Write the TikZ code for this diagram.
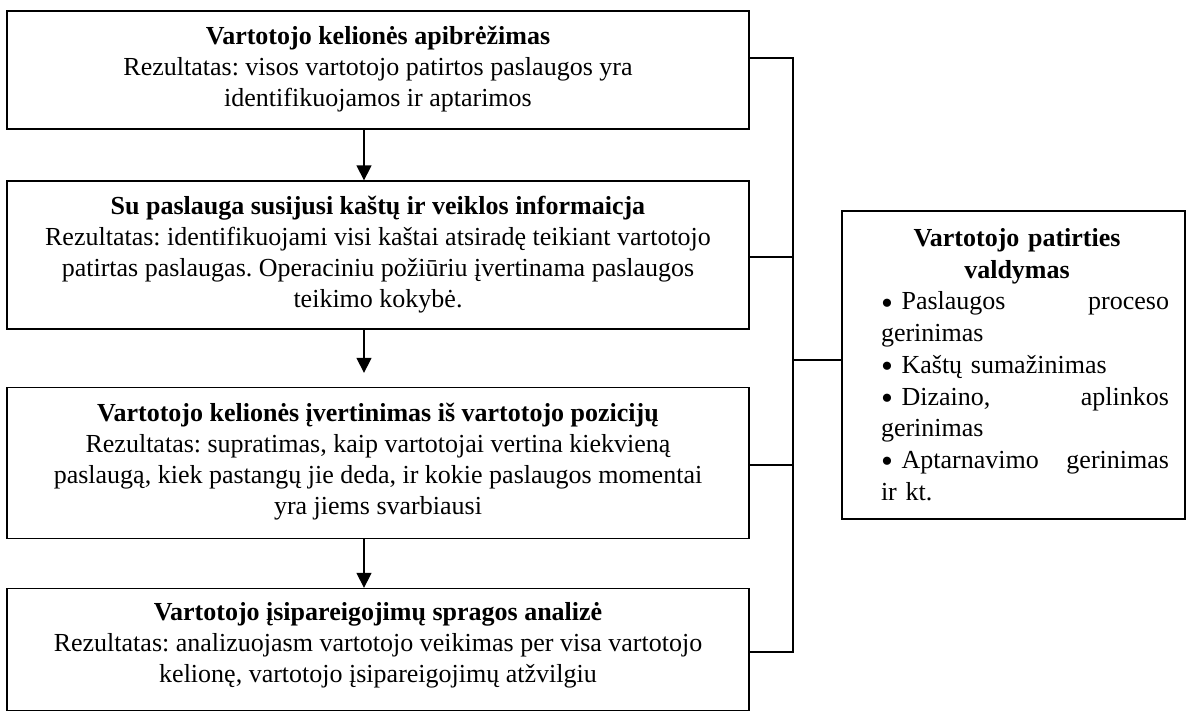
\documentclass[tikz,border=0pt]{standalone}
\usepackage{fontspec}
\setmainfont{Liberation Serif}
\usetikzlibrary{arrows.meta,calc}

\tikzset{
  box/.style={draw=black, line width=1.3pt, minimum width=742pt, inner sep=0pt},
  sidebox/.style={draw=black, line width=1.3pt, minimum width=343pt, minimum height=308pt, inner sep=0pt},
  txt/.style={align=center, inner sep=0pt, font=\fontsize{26}{31}\selectfont\frenchspacing},
  sidetxt/.style={text width=288pt, align=left, inner sep=0pt, font=\fontsize{26}{31.7}\selectfont\frenchspacing},
  link/.style={line width=1.3pt},
  flow/.style={line width=1.3pt, -{Triangle[length=15pt,width=15pt]}}
}
\newcommand{\firstline}{\rule{0pt}{20pt}}
\newcommand{\bul}{\raisebox{-4.5pt}{\fontsize{34}{31}\selectfont •}\ }

\begin{document}
\begin{tikzpicture}[x=1pt,y=-1pt]
\useasboundingbox (0,0) rectangle (1191,720);

% process boxes
\node[box, minimum height=118pt] (b1) at (378,70) {};
\node[box, minimum height=148pt] (b2) at (378,255) {};
\node[box, minimum height=151pt] (b3) at (378,463) {};
\node[box, minimum height=122pt] (b4) at (378,649.5) {};

% box texts
\node[txt, anchor=north] (t1) at ($(b1.north)+(0,14)$)
  {\firstline\textbf{Vartotojo kelionės apibrėžimas}\\
   Rezultatas: visos vartotojo patirtos paslaugos yra\\
   identifikuojamos ir aptarimos};
\node[txt, anchor=north] (t2) at ($(b2.north)+(0,14)$)
  {\firstline\textbf{Su paslauga susijusi kaštų ir veiklos informaicja}\\
   Rezultatas: identifikuojami visi kaštai atsiradę teikiant vartotojo\\
   patirtas paslaugas. Operaciniu požiūriu įvertinama paslaugos\\
   teikimo kokybė.};
\node[txt, anchor=north] (t3) at ($(b3.north)+(0,14)$)
  {\firstline\textbf{Vartotojo kelionės įvertinimas iš vartotojo pozicijų}\\
   Rezultatas: supratimas, kaip vartotojai vertina kiekvieną\\
   paslaugą, kiek pastangų jie deda, ir kokie paslaugos momentai\\
   yra jiems svarbiausi};
\node[txt, anchor=north] (t4) at ($(b4.north)+(0,12)$)
  {\firstline\textbf{Vartotojo įsipareigojimų spragos analizė}\\
   Rezultatas: analizuojasm vartotojo veikimas per visa vartotojo\\
   kelionę, vartotojo įsipareigojimų atžvilgiu};

% flow arrows
\coordinate (ax) at (364,0);
\draw[flow] (b1.south -| ax) -- (b2.north -| ax);
\draw[flow] (b2.south -| ax) -- ($(b3.north -| ax)+(0,-14)$);
\draw[flow] (b3.south -| ax) -- (b4.north -| ax);

% management box
\node[sidebox] (rb) at (1013.5,365) {};
\node[sidetxt, anchor=north] (rt) at ($(rb.north)+(11.5,16)$)
  {\firstline\hfill\textbf{Vartotojo patirties}\hfill\hspace*{16pt}\null\\
   \hfill\textbf{valdymas}\hfill\hspace*{16pt}\null\\
   \bul Paslaugos\hfill proceso\\
   gerinimas\\
   \bul Kaštų sumažinimas\\
   \bul Dizaino,\hfill aplinkos\\
   gerinimas\\
   \bul Aptarnavimo\hfill gerinimas\\
   ir kt.};

% bracket joining the process boxes to the management box
\coordinate (j1) at (793,58);
\coordinate (j2) at (793,257);
\coordinate (jm) at (793,360);
\coordinate (j3) at (793,465);
\coordinate (j4) at (793,652);
\draw[link] (b1.east |- j1) -- (j1) -- (j4) -- (b4.east |- j4);
\draw[link] (b2.east |- j2) -- (j2);
\draw[link] (b3.east |- j3) -- (j3);
\draw[link] (jm) -- (rb.west |- jm);
\end{tikzpicture}
\end{document}
